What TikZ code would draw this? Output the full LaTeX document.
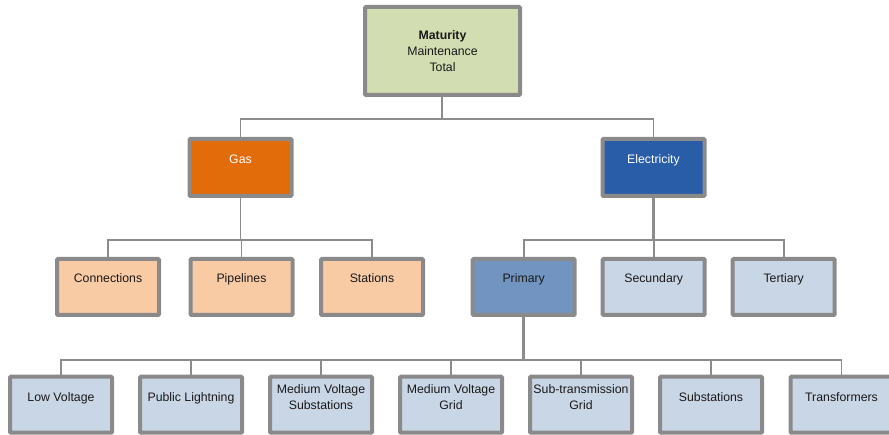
\documentclass[tikz,border=0pt]{standalone}
\usepackage{fontspec}
\setmainfont{Liberation Sans}
\begin{document}
\definecolor{rootfill}{HTML}{D2DEB1}
\definecolor{gasfill}{HTML}{E26B0A}
\definecolor{elecfill}{HTML}{2A5DA8}
\definecolor{primfill}{HTML}{7294C0}
\definecolor{lightblue}{HTML}{C9D6E6}
\definecolor{peach}{HTML}{F9CBA5}
\definecolor{edge}{HTML}{8A8A8A}
\definecolor{wire}{HTML}{8C8C8C}
\begin{tikzpicture}[x=1pt,y=-1pt,
  box/.style={draw=edge,line width=4pt,rounded corners=1pt,inner sep=0pt,
    minimum width=102pt,minimum height=56pt},
  txt/.style={align=center,inner sep=0pt,anchor=base,
    font=\fontsize{12.3}{16}\selectfont,text=black!90},
  wtxt/.style={txt,text=white},
  conn/.style={draw=wire,line width=1.6pt},
  thick conn/.style={draw=wire,line width=2.6pt}]
\useasboundingbox (0,0) rectangle (889,435);

% root (text placed by the baseline of its last line)
\node[box,fill=rootfill,minimum width=155pt,minimum height=88pt] (root) at (442.5,51) {};
\node[txt] (root-t) at (442.5,71.5) {\textbf{Maturity}\\Maintenance\\Total};

% second level
\node[box,fill=gasfill,minimum height=57pt] (gas) at (240.5,167.5) {};
\node[wtxt] (gas-t) at (240.5,163.5) {Gas};
\node[box,fill=elecfill,minimum height=57pt] (elec) at (653.5,167.5) {};
\node[wtxt] (elec-t) at (653.5,163.5) {Electricity};

% gas branches
\node[box,fill=peach] (con) at (108,287) {};
\node[txt] (con-t) at (108,282.5) {Connections};
\node[box,fill=peach] (pipe) at (241.5,287) {};
\node[txt] (pipe-t) at (241.5,282.5) {Pipelines};
\node[box,fill=peach] (stat) at (372,287) {};
\node[txt] (stat-t) at (372,282.5) {Stations};

% electricity branches
\node[box,fill=primfill] (prim) at (523.7,287) {};
\node[txt] (prim-t) at (523.7,282.5) {Primary};
\node[box,fill=lightblue] (sec) at (653.7,287) {};
\node[txt] (sec-t) at (653.7,282.5) {Secundary};
\node[box,fill=lightblue] (ter) at (783.7,287) {};
\node[txt] (ter-t) at (783.7,282.5) {Tertiary};

% primary network
\node[box,fill=lightblue] (lv) at (61,404.7) {};
\node[txt] (lv-t) at (61,401.5) {Low Voltage};
\node[box,fill=lightblue] (pl) at (191,404.7) {};
\node[txt] (pl-t) at (191,401.5) {Public Lightning};
\node[box,fill=lightblue] (mvs) at (321,404.7) {};
\node[txt] (mvs-t) at (321,409.5) {Medium Voltage\\Substations};
\node[box,fill=lightblue] (mvg) at (451,404.7) {};
\node[txt] (mvg-t) at (451,409.5) {Medium Voltage\\Grid};
\node[box,fill=lightblue] (stg) at (581,404.7) {};
\node[txt] (stg-t) at (581,409.5) {Sub-transmission\\Grid};
\node[box,fill=lightblue] (sub) at (711,404.7) {};
\node[txt] (sub-t) at (711,401.5) {Substations};
\node[box,fill=lightblue] (tr) at (841.5,404.7) {};
\node[txt] (tr-t) at (841.5,401.5) {Transformers};

% bus coordinates
\coordinate (bus1) at (442,119);
\coordinate (bus2) at (240.5,240);
\coordinate (bus3) at (653.5,240);
\coordinate (bus4) at (523.7,360);

% connectors
\draw[conn] (root.south -| bus1) -- (bus1);
\draw[conn] (gas.north) |- (bus1) -| (elec.north);

\draw[conn] (gas.south) -- (bus2);
\draw[conn] (con.north) |- (bus2) -| (stat.north);
\draw[conn] (pipe.north) -- (pipe.north |- bus2);

\draw[thick conn] (elec.south) -- (bus3);
\draw[conn] (prim.north) |- (bus3) -| (ter.north);
\draw[conn] (sec.north) -- (sec.north |- bus3);

\draw[thick conn] (prim.south) -- (bus4);
\draw[conn] (lv.north) |- (bus4) -| (tr.north);
\foreach \n in {pl,mvs,mvg,stg,sub}
  \draw[conn] (\n.north) -- (\n.north |- bus4);
\end{tikzpicture}
\end{document}
